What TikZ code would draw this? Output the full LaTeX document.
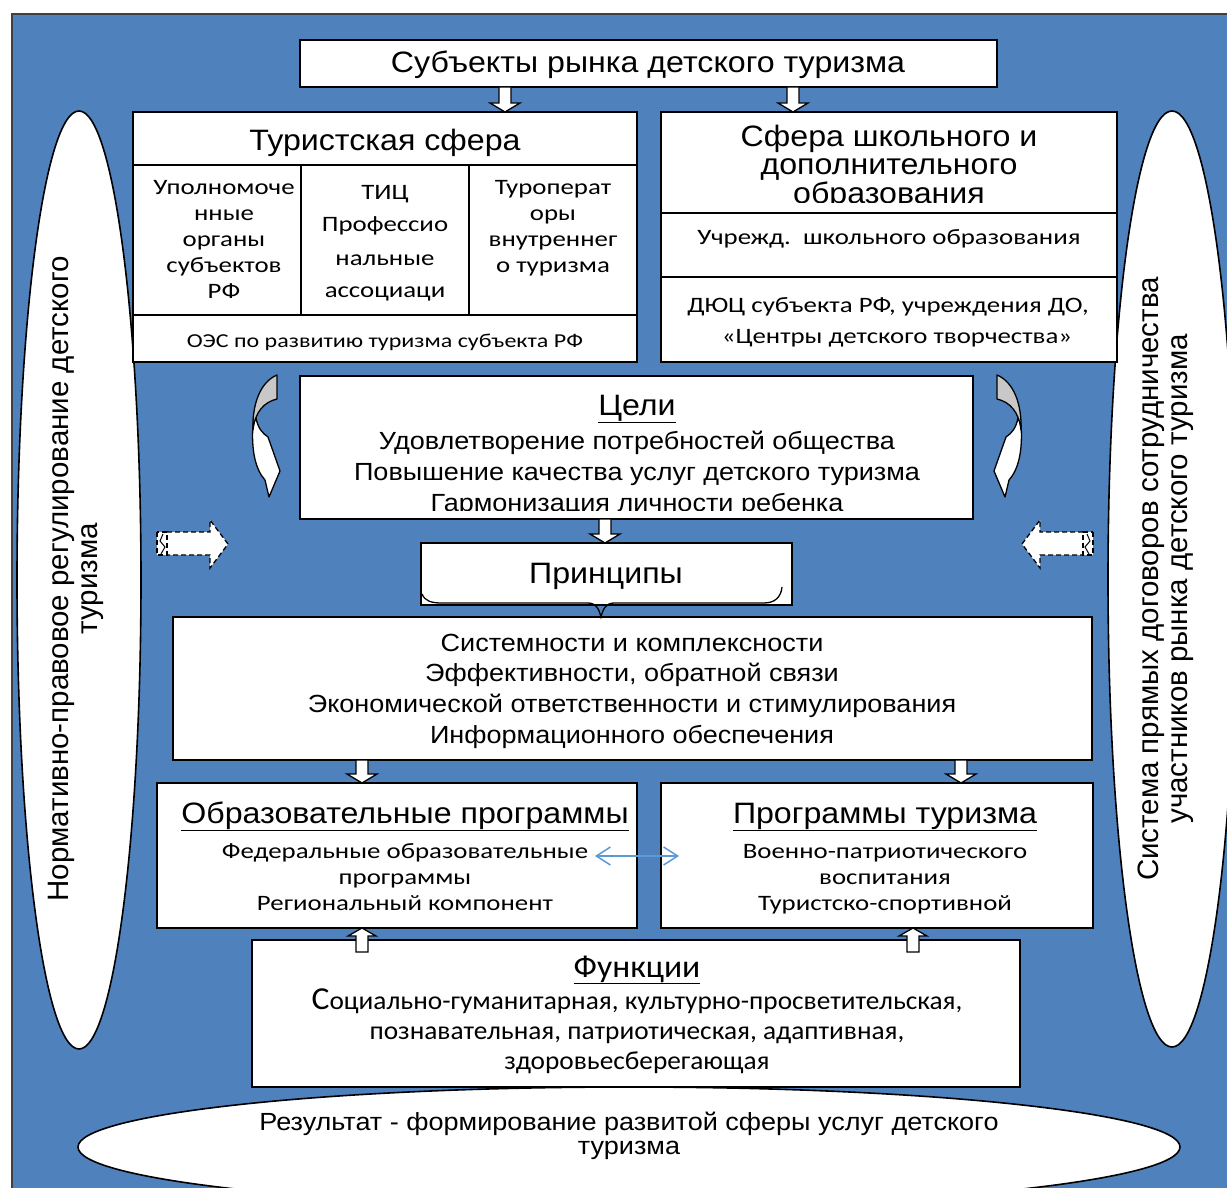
\documentclass[tikz,border=0pt]{standalone}
\usepackage{fontspec}
\setmainfont{Liberation Sans}
\newfontfamily\arw[FakeStretch=1.09]{Liberation Sans}
\newfontfamily\calm[FakeStretch=1.05]{Carlito}
\newfontfamily\calw[FakeStretch=1.22]{Carlito}
\usetikzlibrary{arrows.meta,calc}
\definecolor{bgblue}{HTML}{4F81BD}
\definecolor{lblue}{HTML}{5B9BD5}
\definecolor{curvgray}{HTML}{C8C8C8}
\newcommand\downblk[2]{\draw[blk] let \p1=(#1), \p2=(#2) in
  (\x1-6pt,\y1) -- (\x1-6pt,\y2+9pt) -- (\x1-15pt,\y2+9pt) -- (\x1,\y2) --
  (\x1+15pt,\y2+9pt) -- (\x1+6pt,\y2+9pt) -- (\x1+6pt,\y1) -- cycle;}
\newcommand\upblk[2]{\draw[blk] let \p1=(#1), \p2=(#2) in
  (\x1-6pt,\y1) -- (\x1-6pt,\y2-8pt) -- (\x1-14pt,\y2-8pt) -- (\x1,\y2) --
  (\x1+14pt,\y2-8pt) -- (\x1+6pt,\y2-8pt) -- (\x1+6pt,\y1) -- cycle;}
\newcommand\curvarrow{%
  \draw[curv, fill=white] (253,424) .. controls (251,452) and (256,470) .. (265,480)
    -- (269,497) -- (280,471) -- (268,437) .. controls (262,433) and (258,428) .. (256,418) -- cycle;
  \draw[curv, fill=curvgray] (277,375) .. controls (260,382) and (252,405) .. (253,430)
    .. controls (255,412) and (264,402) .. (277,399) -- cycle;}
\newcommand\dasharrow{%
  \draw[dblk] (167,532) -- (210,532) -- (210,520) -- (228,544) -- (210,568) -- (210,555) -- (167,555);
  \draw[dblk] (157,532) rectangle (167,555);
  \draw[line width=1pt] (163,534) -- (160,541) -- (165,547) -- (161,554);}
\begin{document}
\begin{tikzpicture}[x=1pt,y=-1pt,
  box/.style={draw, fill=white, line width=1.6pt, inner sep=0pt, outer sep=0pt},
  sepline/.style={line width=1.6pt},
  blk/.style={draw, fill=white, line width=1.3pt, line join=miter},
  dblk/.style={draw, fill=white, line width=1.3pt, dash pattern=on 5pt off 3pt},
  curv/.style={draw, line width=1.3pt, line join=round},
  ell/.style={draw, fill=white, line width=1.6pt},
  tA/.style={inner sep=0pt, anchor=base, font=\arw\fontsize{29.5}{30}\selectfont},
  tB/.style={inner sep=0pt, anchor=base, font=\arw\fontsize{24.8}{29}\selectfont},
  tC/.style={inner sep=0pt, anchor=base, font=\calw\fontsize{22}{26}\selectfont},
  tS/.style={inner sep=0pt, anchor=base, font=\calw\fontsize{19.7}{24}\selectfont},
  tF/.style={inner sep=0pt, anchor=base, font=\calm\fontsize{26}{30}\selectfont},
  tR/.style={inner sep=0pt, align=center, rotate=90, font=\fontsize{29.5}{29}\selectfont}
]
\useasboundingbox (0,0) rectangle (1227,1188);
\clip (0,0) rectangle (1227,1188);
\fill[white] (0,0) rectangle (1227,1188);
\draw[fill=bgblue, draw=gray!50!black, line width=1.5pt] (12,14) rectangle (1245,1205);

% side and bottom ellipses
\draw[ell] (79,580) ellipse [x radius=62, y radius=469];
\draw[ell] (1172,579) ellipse [x radius=64, y radius=468];
\draw[ell] (629,1147) ellipse [x radius=551, y radius=60];
\node[tR] (lefttxt) at (76,579) {Нормативно-правовое регулирование детского\\туризма};
\node[tR] (righttxt) at (1166,579) {Система прямых договоров сотрудничества\\участников рынка детского туризма};
\node[tB] (res1) at (629,1130) {Результат - формирование развитой сферы услуг детского};
\node[tB] (res2) at (629,1154) {туризма};

% boxes
\node[box, minimum width=697pt, minimum height=47pt] (top) at (648.5,63.5) {};
\node[box, minimum width=504pt, minimum height=250pt] (tur) at (385,237) {};
\node[box, minimum width=456pt, minimum height=250pt] (sch) at (889,237) {};
\node[box, minimum width=673pt, minimum height=143pt] (goals) at (636.5,447.5) {};
\node[box, minimum width=371pt, minimum height=62pt] (princ) at (606.5,574) {};
\node[box, minimum width=919pt, minimum height=143pt] (plist) at (632.5,688.5) {};
\node[box, minimum width=480pt, minimum height=145pt] (edu) at (397,855.5) {};
\node[box, minimum width=432pt, minimum height=145pt] (tprog) at (877,855.5) {};
\node[box, minimum width=768pt, minimum height=147pt] (func) at (636,1013.5) {};

% inner rules
\draw[sepline] (tur.west |- 0,165) -- (tur.east |- 0,165);
\draw[sepline] (tur.west |- 0,315) -- (tur.east |- 0,315);
\draw[sepline] (301,165) -- (301,315);
\draw[sepline] (469,165) -- (469,315);
\draw[sepline] (sch.west |- 0,213) -- (sch.east |- 0,213);
\draw[sepline] (sch.west |- 0,277) -- (sch.east |- 0,277);

% brace in Principles box
\draw[line width=1.3pt] (422,594) .. controls (425,601) and (431,603) .. (442,603)
  -- (588,603) .. controls (596,603) and (599,609) .. (601,617)
  .. controls (603,609) and (606,603) .. (614,603) -- (764,603)
  .. controls (775,603) and (781,597) .. (782,587);

% texts
\node[tA] (t1) at (648,73) {Субъекты рынка детского туризма};
\node[tA] (t2) at (385,151) {Туристская сфера};
\node[tC] (c11) at (224,194) {Уполномоче};
\node[tC] (c12) at (224,220) {нные};
\node[tC] (c13) at (224,246) {органы};
\node[tC] (c14) at (224,272) {субъектов};
\node[tC] (c15) at (224,298) {РФ};
\node[tC] (c21) at (385,200) {ТИЦ};
\node[tC] (c22) at (385,232) {Профессио};
\node[tC] (c23) at (385,265) {нальные};
\node[tC] (c24) at (385,297) {ассоциаци};
\node[tC] (c31) at (553,194) {Туроперат};
\node[tC] (c32) at (553,220) {оры};
\node[tC] (c33) at (553,246) {внутреннег};
\node[tC] (c34) at (553,272) {о туризма};
\node[tS] (oes) at (385,347) {ОЭС по развитию туризма субъекта РФ};
\begin{scope}
\clip (661,112) rectangle (1117,203);
\node[tA] (s1) at (889,146.5) {Сфера школьного и};
\node[tA] (s2) at (889,175) {дополнительного};
\node[tA] (s3) at (889,203.5) {образования};
\end{scope}
\node[tC] (s4) at (889,244) {Учрежд.\ \ школьного образования};
\node[tC] (s5) at (888,312) {ДЮЦ субъекта РФ, учреждения ДО,};
\node[tC] (s6) at (897,343) {«Центры детского творчества»};

\node[tA] (g0) at (637,415) {\underline{Цели}};
\begin{scope}
\clip (300,376) rectangle (973,510);
\node[tB] (g1) at (637,449) {Удовлетворение потребностей общества};
\node[tB] (g2) at (637,480) {Повышение качества услуг детского туризма};
\node[tB] (g3) at (637,511) {Гармонизация личности ребенка};
\end{scope}
\node[tA] (p0) at (606,583) {Принципы};
\node[tB] (p1) at (632,651) {Системности и комплексности};
\node[tB] (p2) at (632,681) {Эффективности, обратной связи};
\node[tB] (p3) at (632,712) {Экономической ответственности и стимулирования};
\node[tB] (p4) at (632,743) {Информационного обеспечения};

\node[tA] (e0) at (405,823) {\underline{Образовательные программы}};
\node[tC] (e1) at (405,858) {Федеральные образовательные};
\node[tC] (e2) at (405,884) {программы};
\node[tC] (e3) at (405,910) {Региональный компонент};
\node[tA] (r0) at (885,823) {\underline{Программы туризма}};
\node[tC] (r1) at (885,858) {Военно-патриотического};
\node[tC] (r2) at (885,884) {воспитания};
\node[tC] (r3) at (885,910) {Туристско-спортивной};

\node[tF, font=\calm\fontsize{32}{30}\selectfont] (f0) at (637,977) {\underline{Функции}};
\node[tF] (f1) at (637,1009) {{\fontsize{32}{30}\selectfont С}оциально-гуманитарная, культурно-просветительская,};
\node[tF] (f2) at (637,1039) {познавательная, патриотическая, адаптивная,};
\node[tF] (f3) at (637,1069) {здоровьесберегающая};

% block arrows
\downblk{505,0 |- top.south}{505,0 |- tur.north}
\downblk{793,0 |- top.south}{793,0 |- sch.north}
\downblk{605,0 |- goals.south}{605,0 |- princ.north}
\downblk{362,0 |- plist.south}{362,0 |- edu.north}
\downblk{961,0 |- plist.south}{961,0 |- tprog.north}
\upblk{362,952}{362,0 |- edu.south}
\upblk{913,952}{913,0 |- tprog.south}

% blue double arrow
\coordinate (da1) at (595,856);
\coordinate (da2) at (679,856);
\draw[lblue, line width=1.5pt, {Straight Barb[length=14pt,width=18pt]}-{Straight Barb[length=14pt,width=18pt]}] (da1) -- (da2);

% curved arrows
\begin{scope}\curvarrow\end{scope}
\begin{scope}[shift={(1274,0)}, xscale=-1]\curvarrow\end{scope}

% dashed block arrows
\begin{scope}\dasharrow\end{scope}
\begin{scope}[shift={(1250,0)}, xscale=-1]\dasharrow\end{scope}
\end{tikzpicture}
\end{document}
